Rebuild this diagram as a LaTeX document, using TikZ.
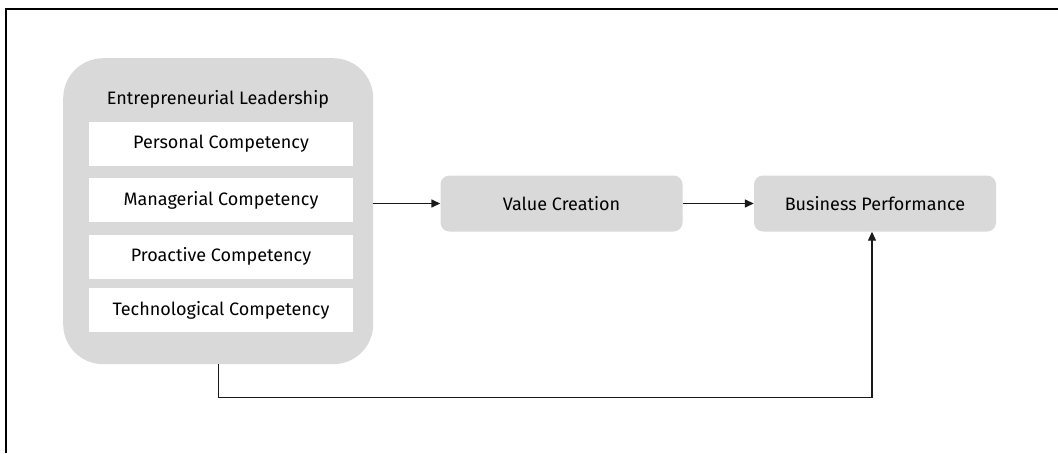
\documentclass[tikz,border=0pt]{standalone}
\usepackage{fontspec}
\setmainfont{Fira Sans}
\usetikzlibrary{arrows.meta}
\definecolor{boxgray}{HTML}{D9D9D9}
\definecolor{linegray}{HTML}{1A1A1A}
\begin{document}
\begin{tikzpicture}[x=1pt,y=-1pt,
  every node/.style={font=\fontsize{18}{21}\selectfont, text=black},
  groupbox/.style={fill=boxgray, rounded corners=40pt, minimum width=310pt, minimum height=306pt, anchor=north west},
  itembox/.style={fill=white, minimum width=264pt, minimum height=44pt},
  stagebox/.style={fill=boxgray, rounded corners=9pt, minimum width=242pt, minimum height=56pt},
  link/.style={draw=linegray, line width=1.4pt, -{Triangle[length=9pt,width=8pt]}},
]
\useasboundingbox (0,0) rectangle (1058,453);
% frame
\draw[line width=2pt] (6,453) -- (6,8.5) -- (1058,8.5);

% entrepreneurial leadership group
\node[groupbox] (el) at (63,58) {};
\node (title) at (218,99) {Entrepreneurial Leadership};
\node[itembox] (pc) at (221,144) {Personal Competency};
\node[itembox] (mc) at (221,200) {Managerial Competency};
\node[itembox] (prc) at (221,256.5) {Proactive Competency};
\node[itembox] (tc) at (221,310) {Technological Competency};

% outcome stages
\node[stagebox] (vc) at (561.5,203.5) {Value Creation};
\node[stagebox] (bp) at (875,203.5) {Business Performance};

% connectors
\draw[link] (el.east |- vc.west) -- (vc.west);
\draw[link] (vc.east) -- (bp.west);
\draw[link, line width=1.2pt] (el.south) -- ++(0,33) -| ([xshift=-3pt]bp.south);
\end{tikzpicture}
\end{document}
